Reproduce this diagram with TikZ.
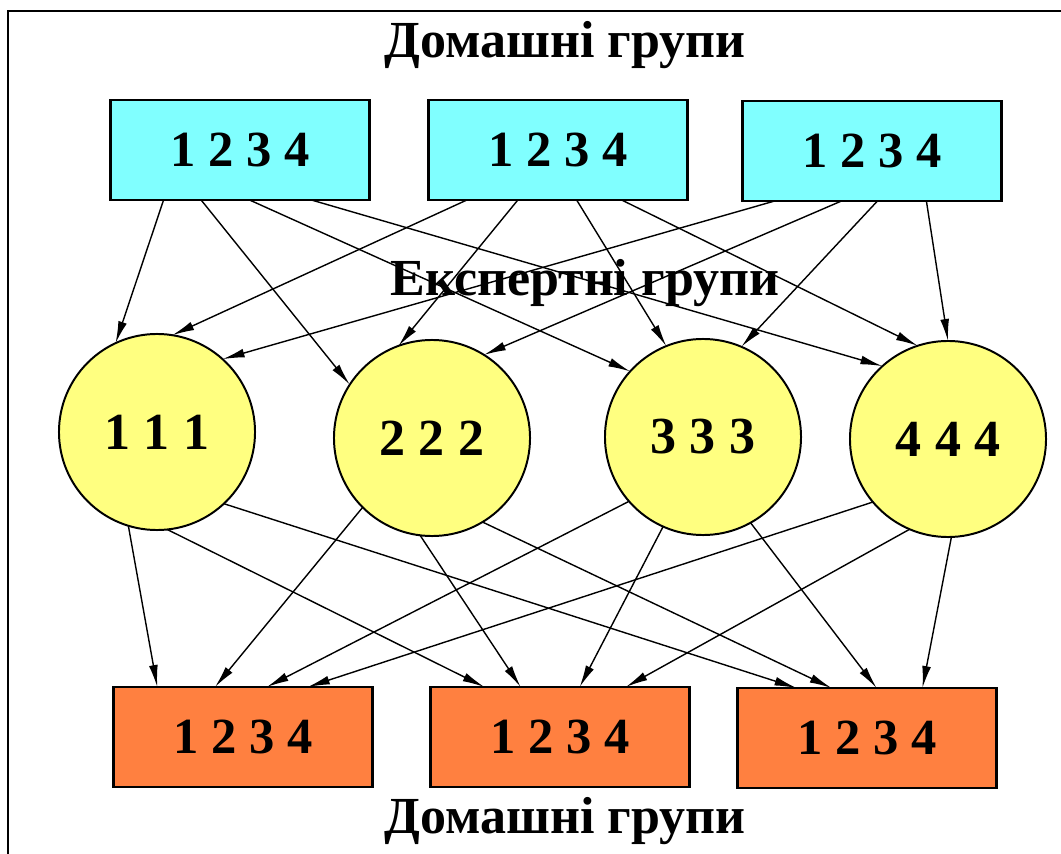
\documentclass[tikz,border=0pt]{standalone}
\usepackage{fontspec}
\setmainfont{Liberation Serif}
\usetikzlibrary{arrows.meta, calc}
\definecolor{HomeCyan}{HTML}{80FFFF}
\definecolor{ExpYellow}{HTML}{FFFF80}
\definecolor{BackOrange}{HTML}{FF8040}
\tikzset{
  homebox/.style={draw=black, line width=2pt, fill=HomeCyan, minimum width=6.475cm, minimum height=2.5cm, inner sep=0pt, outer sep=0pt, font=\fontsize{36}{38}\selectfont\bfseries},
  backbox/.style={homebox, fill=BackOrange},
  expert/.style={circle, draw=black, line width=1.4pt, fill=ExpYellow, minimum size=4.9cm, inner sep=0pt, outer sep=0pt, font=\fontsize{37}{38}\selectfont\bfseries},
  title/.style={anchor=base, inner sep=0pt, font=\fontsize{37}{40}\selectfont\bfseries},
  arr/.style={-{Latex[length=5.5mm, width=2.2mm]}, line width=1pt, draw=black}
}
\begin{document}
\begin{tikzpicture}[x=0.025cm, y=-0.025cm]
\useasboundingbox (0,0) rectangle (1061,854);
\draw[line width=1.8pt] (8,854) -- (8,11) -- (1061,11);
% titles
\node[title] (top) at (565,58) {Домашні групи};
\node[title] (mid) at (585,295) {Експертні групи};
\node[title] (bot) at (565,833) {Домашні групи};
% home groups
\node[homebox] (h1) at (240,150) {1 2 3 4};
\node[homebox] (h2) at (558,150) {1 2 3 4};
\node[homebox] (h3) at (872,151) {1 2 3 4};
% expert groups
\node[expert] (e1) at (157,432) {1 1 1};
\node[expert] (e2) at (432,438) {2 2 2};
\node[expert] (e3) at (703,437) {3 3 3};
\node[expert] (e4) at (948,439) {4 4 4};
% home groups again
\node[backbox] (r1) at (243,737) {1 2 3 4};
\node[backbox] (r2) at (560,737) {1 2 3 4};
\node[backbox] (r3) at (867,738) {1 2 3 4};
% home -> expert
\foreach \h/\e/\f/\a in {1/1/0.205/115, 1/2/0.35/147, 1/3/0.537/138, 1/4/0.776/132,
                         2/1/0.148/81, 2/2/0.345/110, 2/3/0.572/112, 2/4/0.746/108,
                         3/1/0.124/48, 3/2/0.382/58, 3/3/0.521/67, 3/4/0.71/90}
  \draw[arr] ($(h\h.south west)!\f!(h\h.south east)$) -- (e\e.\a);
% expert -> home
\foreach \e/\r/\a/\f in {1/1/-107/0.169, 1/2/-84/0.208, 1/3/-47/0.228,
                         2/1/-135/0.392, 2/2/-97/0.348, 2/3/-59/0.363,
                         3/1/-139/0.592, 3/2/-114/0.576, 3/3/-61/0.537,
                         4/1/-140/0.75, 4/2/-113/0.754, 4/3/-88/0.714}
  \draw[arr] (e\e.\a) -- ($(r\r.north west)!\f!(r\r.north east)$);
\end{tikzpicture}
\end{document}
